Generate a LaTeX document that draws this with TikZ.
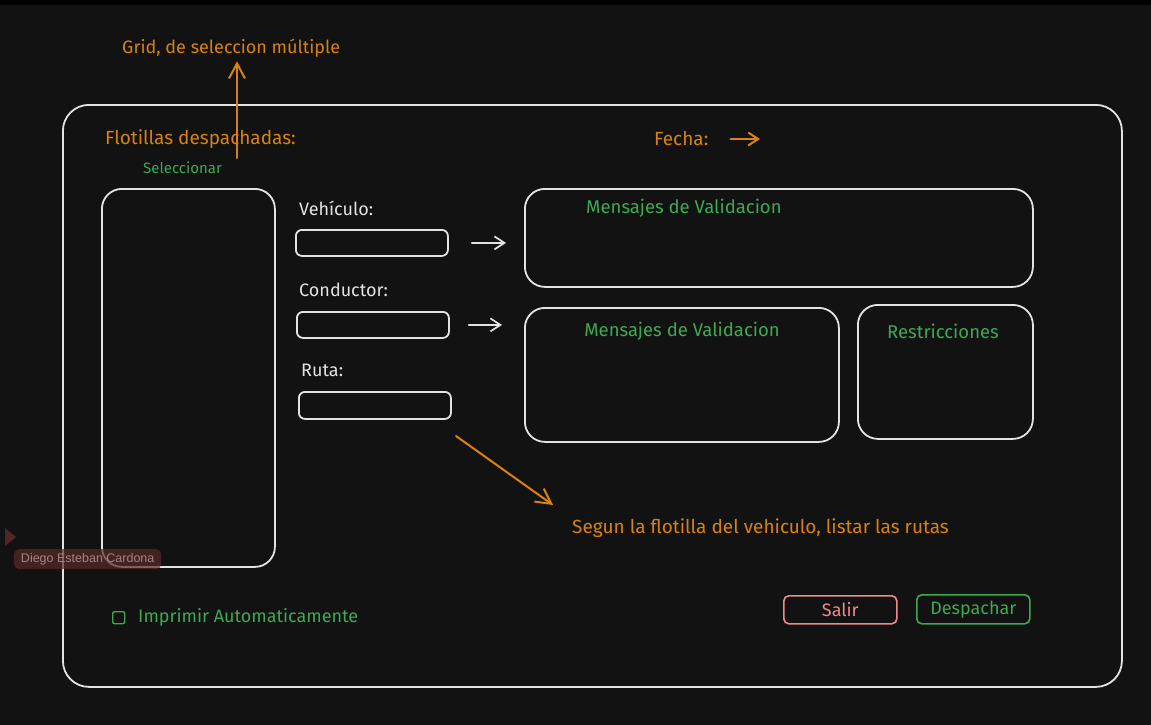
\documentclass[tikz,border=0pt]{standalone}
\usepackage{fontspec}
\setmainfont{Fira Sans}
\newfontfamily\tagfont{Liberation Sans}
\usetikzlibrary{arrows.meta}
\definecolor{bg}{HTML}{121212}
\definecolor{ink}{HTML}{E3E3E3}
\definecolor{note}{HTML}{D9820F}
\definecolor{okgreen}{HTML}{3DAA52}
\definecolor{exitred}{HTML}{F08A8A}
\definecolor{tagfill}{HTML}{5A2929}
\definecolor{tagtext}{HTML}{A08484}
\tikzset{
  panel/.style={draw=ink, line width=1.8pt, inner sep=0pt, anchor=north west, rounded corners=20pt},
  field/.style={panel, rounded corners=6pt},
  button/.style={draw=#1, line width=1.6pt, inner sep=0pt, anchor=north west, rounded corners=5pt},
  btntext/.style={text=#1, inner sep=0pt, font=\fontsize{18}{21}\selectfont},
  whitelabel/.style={text=ink, inner sep=0pt, anchor=west, font=\fontsize{18}{21}\selectfont},
  notelabel/.style={text=note, inner sep=0pt, anchor=west, font=\fontsize{19}{22}\selectfont},
  greenlabel/.style={text=okgreen, inner sep=0pt, font=\fontsize{18.5}{22}\selectfont},
  barb/.style={-{Straight Barb[length=10pt,width=13pt]}, line width=1.7pt, line cap=round},
  bigbarb/.style={-{Straight Barb[length=15pt,width=16pt]}, line width=2pt, line cap=round},
}
\begin{document}
\begin{tikzpicture}[x=1pt,y=-1pt]
  % canvas
  \fill[bg] (0,0) rectangle (1151,725);
  \fill[black!92!bg] (0,0) rectangle (1151,5);
  \useasboundingbox (0,0) rectangle (1151,725);

  % outer window
  \node[panel, rounded corners=26pt, minimum width=1059pt, minimum height=582pt] (window) at (62,104) {};

  % fleet list
  \node[notelabel] (flot) at (105,139) {Flotillas despachadas:};
  \node[greenlabel, anchor=west, font=\fontsize{15}{18}\selectfont] (sel) at (143,168) {Seleccionar};
  \node[panel, minimum width=173pt, minimum height=378pt] (list) at (101,188) {};

  % grid note above
  \node[notelabel, font=\fontsize{18}{21}\selectfont] (grid) at (122,48) {Grid, de seleccion múltiple};
  \coordinate (gridfoot) at (237,158);
  \draw[bigbarb, note, shorten >=4pt] (gridfoot) -- (gridfoot |- grid.south);

  % date
  \node[notelabel] (fecha) at (654,139) {Fecha:};
  \coordinate (fechaend) at (760,139);
  \draw[barb, note, line width=2pt, shorten <=22pt] (fecha.east) -- (fechaend);

  % form fields
  \node[whitelabel] (veh) at (299,208) {Vehículo:};
  \node[field, minimum width=152pt, minimum height=26pt] (tb1) at (295,229) {};
  \node[whitelabel] (cond) at (299,290) {Conductor:};
  \node[field, minimum width=152pt, minimum height=26pt] (tb2) at (296,311) {};
  \node[whitelabel] (ruta) at (301,370) {Ruta:};
  \node[field, minimum width=152pt, minimum height=27pt] (tb3) at (298,391) {};

  % validation panels
  \node[panel, minimum width=508pt, minimum height=98pt] (msg1) at (524,188) {};
  \node[greenlabel, anchor=west] (msg1t) at (586,208) {Mensajes de Validacion};
  \node[panel, minimum width=314pt, minimum height=134pt] (msg2) at (524,307) {};
  \node[greenlabel] (msg2t) at (682,331) {Mensajes de Validacion};
  \node[panel, minimum width=175pt, minimum height=134pt] (restr) at (857,304) {};
  \node[greenlabel] (restrt) at (943,331) {Restricciones};

  \draw[barb, ink, shorten <=23pt, shorten >=18pt] (tb1.east) -- (tb1.east -| msg1.west);
  \draw[barb, ink, shorten <=19pt, shorten >=22pt] (tb2.east) -- (tb2.east -| msg2.west);

  % route note
  \node[notelabel] (segun) at (572,528) {Segun la flotilla del vehiculo, listar las rutas};
  \coordinate (rutafrom) at (456,436);
  \coordinate (rutato) at (553,505);
  \draw[bigbarb, note] (rutafrom) -- (rutato);

  % bottom controls
  \node[draw=okgreen, line width=1.4pt, rounded corners=2pt, minimum size=12pt, inner sep=0pt, anchor=north west] (chk) at (112,611) {};
  \node[greenlabel, anchor=west, font=\fontsize{18}{21}\selectfont] (imp) at (138,617) {Imprimir Automaticamente};
  \node[button=exitred, minimum width=113pt, minimum height=28pt] (salir) at (783,595) {};
  \node[btntext=exitred] at (salir.center) {Salir};
  \node[button=okgreen, minimum width=113pt, minimum height=29pt] (desp) at (916,594) {};
  \node[btntext=okgreen] at (desp.center) {Despachar};

  % collaborator cursor tag
  \fill[tagfill, opacity=0.85] (5,528) -- (16,537) -- (5,546) -- cycle;
  \node[fill=tagfill, fill opacity=0.7, text opacity=1, text=tagtext, rounded corners=5pt,
        minimum width=147pt, minimum height=20pt, inner sep=0pt, anchor=north west,
        font=\tagfont\fontsize{12.5}{15}\selectfont] (tag) at (14,549) {Diego Esteban Cardona};
\end{tikzpicture}
\end{document}
